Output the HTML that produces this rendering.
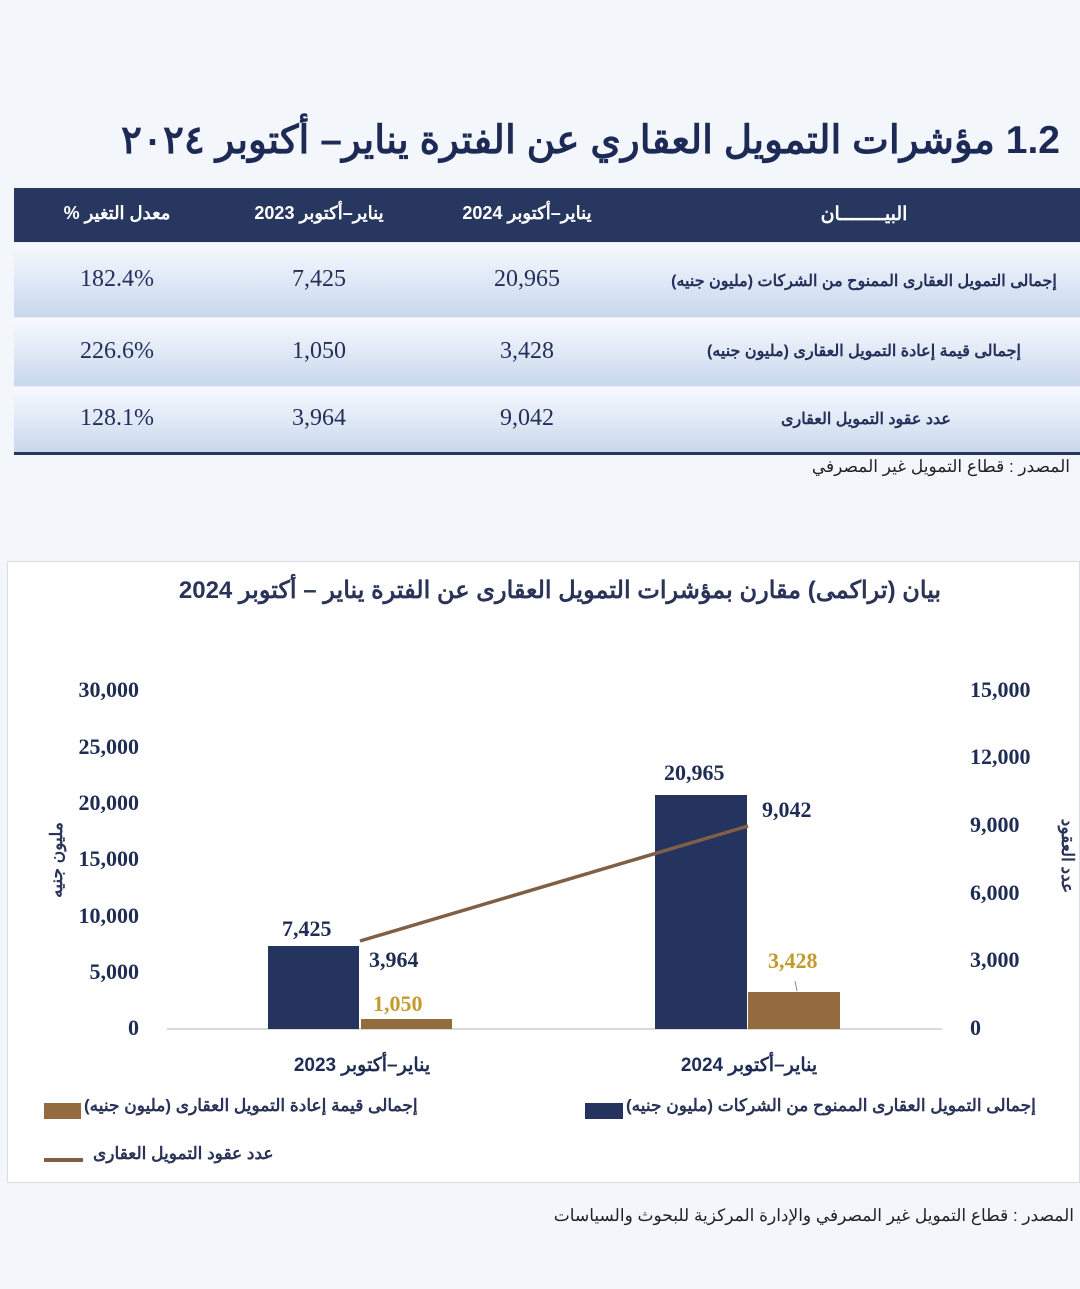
<!DOCTYPE html>
<html><head><meta charset="utf-8"><style>
body{margin:0;width:1080px;height:1289px;background:#f3f7fc;position:relative;overflow:hidden;font-family:"Liberation Serif","Noto Sans CJK SC",serif;}
.a{position:absolute;white-space:nowrap}
.ar{font-family:"Liberation Sans","Noto Sans CJK SC",sans-serif;}
.row{position:absolute;left:14px;width:1066px;background:linear-gradient(#f7faff,#c8d7ec);border-top:1px solid #e6edf6}
.c{position:absolute;transform:translateX(-50%);font-size:24px;color:#24305a;white-space:nowrap;transform-origin:center}
.t{font-weight:bold;color:#1f2d55;font-size:22px}
</style></head><body>
<div class="a ar" style="right:20px;top:118px;font-size:39px;font-weight:bold;color:#1c2a55;direction:rtl">1.2 مؤشرات التمويل العقاري عن الفترة يناير– أكتوبر ٢٠٢٤</div>
<div class="a" style="left:14px;top:188px;width:1066px;height:54px;background:#27375f"></div>
<div class="row" style="top:242px;height:75px"></div>
<div class="row" style="top:317px;height:69px"></div>
<div class="row" style="top:386px;height:67px"></div>
<div class="a" style="left:14px;top:452px;width:1066px;height:3px;background:#27375f"></div>
<div class="c ar" style="left:864px;top:203px;color:#fff;font-size:19px;font-weight:bold">البيــــــــان</div>
<div class="c ar" style="left:527px;top:203px;color:#fff;font-size:18px;font-weight:bold;direction:rtl">يناير–أكتوبر 2024</div>
<div class="c ar" style="left:319px;top:203px;color:#fff;font-size:18px;font-weight:bold;direction:rtl">يناير–أكتوبر 2023</div>
<div class="c ar" style="left:117px;top:203px;color:#fff;font-size:18px;font-weight:bold;direction:rtl">معدل التغير %</div>
<div class="c ar" style="left:864px;top:271px;font-size:16px;font-weight:bold;direction:rtl">إجمالى التمويل العقارى الممنوح من الشركات (مليون جنيه)</div>
<div class="c ar" style="left:864px;top:341px;font-size:16px;font-weight:bold;direction:rtl">إجمالى قيمة إعادة التمويل العقارى (مليون جنيه)</div>
<div class="c ar" style="left:866px;top:409px;font-size:16px;font-weight:bold;direction:rtl">عدد عقود التمويل العقارى</div>
<div class="c" style="left:527px;top:266px">20,965</div><div class="c" style="left:319px;top:266px">7,425</div><div class="c" style="left:117px;top:266px">182.4%</div>
<div class="c" style="left:527px;top:338px">3,428</div><div class="c" style="left:319px;top:338px">1,050</div><div class="c" style="left:117px;top:338px">226.6%</div>
<div class="c" style="left:527px;top:405px">9,042</div><div class="c" style="left:319px;top:405px">3,964</div><div class="c" style="left:117px;top:405px">128.1%</div>
<div class="a ar" style="right:10px;top:457px;font-size:17px;color:#222;direction:rtl">المصدر : قطاع التمويل غير المصرفي</div>

<div class="a" style="left:7px;top:561px;width:1073px;height:622px;background:#fff;border:1px solid #d8dde6;box-sizing:border-box"></div>
<div class="a ar" style="left:175px;top:576px;font-size:24px;font-weight:bold;color:#2a3358;direction:rtl;width:770px;text-align:center">بيان (تراكمى) مقارن بمؤشرات التمويل العقارى عن الفترة يناير – أكتوبر 2024</div>
<div class="a t" style="left:40px;top:677px;width:99px;text-align:right">30,000</div>
<div class="a t" style="left:40px;top:734px;width:99px;text-align:right">25,000</div>
<div class="a t" style="left:40px;top:790px;width:99px;text-align:right">20,000</div>
<div class="a t" style="left:40px;top:846px;width:99px;text-align:right">15,000</div>
<div class="a t" style="left:40px;top:903px;width:99px;text-align:right">10,000</div>
<div class="a t" style="left:40px;top:959px;width:99px;text-align:right">5,000</div>
<div class="a t" style="left:40px;top:1015px;width:99px;text-align:right">0</div>
<div class="a t" style="left:970px;top:677px">15,000</div>
<div class="a t" style="left:970px;top:744px">12,000</div>
<div class="a t" style="left:970px;top:812px">9,000</div>
<div class="a t" style="left:970px;top:880px">6,000</div>
<div class="a t" style="left:970px;top:947px">3,000</div>
<div class="a t" style="left:970px;top:1015px">0</div>
<div class="a ar" style="left:12px;top:850px;font-size:17px;font-weight:bold;color:#2a3358;transform:rotate(-90deg);transform-origin:center;width:90px;text-align:center;direction:rtl">مليون جنيه</div>
<div class="a ar" style="left:1022px;top:846px;font-size:17px;font-weight:bold;color:#2a3358;transform:rotate(90deg);transform-origin:center;width:90px;text-align:center;direction:rtl">عدد العقود</div>
<svg class="a" style="left:0;top:0" width="1080" height="1289">
<rect x="167" y="1028" width="775" height="2" fill="#d9d9d9"/>
<rect x="268" y="946" width="91" height="83" fill="#24345e"/>
<rect x="361" y="1019" width="91" height="10" fill="#946a3f"/>
<rect x="655" y="795" width="92" height="234" fill="#24345e"/>
<rect x="748" y="992" width="92" height="37" fill="#946a3f"/>
<line x1="360" y1="941" x2="748" y2="826" stroke="#7f6045" stroke-width="3.5"/>
<line x1="795" y1="981" x2="797" y2="991" stroke="#888" stroke-width="1"/>
</svg>
<div class="a t" style="left:282px;top:916px">7,425</div>
<div class="a t" style="left:369px;top:947px">3,964</div>
<div class="a t" style="left:373px;top:991px;color:#c49a2d">1,050</div>
<div class="a t" style="left:664px;top:760px">20,965</div>
<div class="a t" style="left:762px;top:797px">9,042</div>
<div class="a t" style="left:768px;top:948px;color:#c49a2d">3,428</div>
<div class="a ar t" style="left:287px;top:1054px;font-size:19px;direction:rtl;width:150px;text-align:center">يناير–أكتوبر 2023</div>
<div class="a ar t" style="left:674px;top:1054px;font-size:19px;direction:rtl;width:150px;text-align:center">يناير–أكتوبر 2024</div>
<div class="a" style="left:585px;top:1103px;width:38px;height:16px;background:#24345e"></div>
<div class="a ar" style="left:626px;top:1096px;font-size:17px;font-weight:bold;color:#2a3358;direction:rtl">إجمالى التمويل العقارى الممنوح من الشركات (مليون جنيه)</div>
<div class="a" style="left:44px;top:1103px;width:37px;height:16px;background:#946a3f"></div>
<div class="a ar" style="left:84px;top:1096px;font-size:17px;font-weight:bold;color:#2a3358;direction:rtl">إجمالى قيمة إعادة التمويل العقارى (مليون جنيه)</div>
<div class="a" style="left:44px;top:1158px;width:39px;height:4px;background:#7f6045"></div>
<div class="a ar" style="left:93px;top:1144px;font-size:17px;font-weight:bold;color:#2a3358;direction:rtl">عدد عقود التمويل العقارى</div>
<div class="a ar" style="right:6px;top:1206px;font-size:17px;color:#222;direction:rtl">المصدر : قطاع التمويل غير المصرفي والإدارة المركزية للبحوث والسياسات</div>
</body></html>
